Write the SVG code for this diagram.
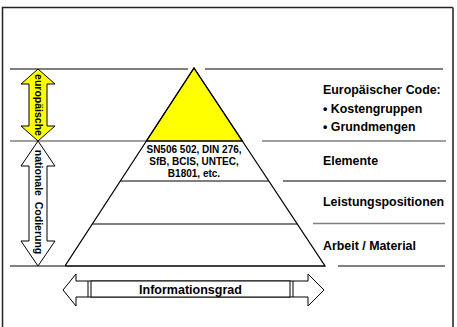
<svg xmlns="http://www.w3.org/2000/svg" width="457" height="327" viewBox="0 0 457 327">
<style>
text{font-family:"Liberation Sans",Arial,sans-serif;font-weight:bold;fill:#000}
.lbl{font-size:12.4px}
.pyr{font-size:10px}
.vt{font-size:10.5px}
.ln{stroke:#000;stroke-width:1.2;fill:none}
.lg{stroke:#808080;stroke-width:1.6;fill:none}
.arr{stroke:#000;stroke-width:1;stroke-linejoin:miter}
</style>
<rect width="457" height="327" fill="#fff"/>
<path d="M2.5,327 V7.5 H453" fill="none" stroke="#222" stroke-width="1.5"/>
<path d="M453,7.5 V327" fill="none" stroke="#555" stroke-width="2"/>
<g id="connectors">
<path class="ln" d="M10,69 H188 M205,69 H443" stroke="#333"/>
<path class="lg" d="M10,141 H146 M262,141 H446"/>
<path class="ln" d="M283,181 H446"/>
<path class="lg" d="M313,223.5 H445"/>
<path class="ln" d="M10,266 H64 M338,266 H445"/>
</g>
<g id="pyramid">
<polygon points="194,68 146.4,141 242.3,141" fill="#ffff00" stroke="#000" stroke-width="1.2"/>
<polygon points="194,68 65,266 325,266" fill="none" stroke="#000" stroke-width="1.2"/>
<path class="ln" d="M146.4,141 H242.3 M120.4,181 H268.8 M92.4,224 H297.2 M65,266 H325"/>
</g>
<g id="codes">
<text class="pyr" x="194" y="153" text-anchor="middle">SN506 502, DIN 276,</text>
<text class="pyr" x="194" y="165" text-anchor="middle">SfB, BCIS, UNTEC,</text>
<text class="pyr" x="194" y="177" text-anchor="middle">B1801, etc.</text>
</g>
<g id="label-eu">
<text class="lbl" x="323" y="94">Europäischer Code:</text>
<text class="lbl" x="323" y="113">• Kostengruppen</text>
<text class="lbl" x="323" y="131">• Grundmengen</text>
</g>
<g id="label-elemente"><text class="lbl" x="323" y="165">Elemente</text></g>
<g id="label-leistung"><text class="lbl" x="323" y="206">Leistungspositionen</text></g>
<g id="label-arbeit"><text class="lbl" x="323" y="250">Arbeit / Material</text></g>
<g id="arrow-europaeische">
<polygon class="arr" fill="#ffff00" points="38,69 55,84 47,84 47,126 55,126 38,141 21,126 29,126 29,84 21,84"/>
<text class="vt" transform="translate(34.5,105) rotate(90)" text-anchor="middle">europäische</text>
</g>
<g id="arrow-national">
<polygon class="arr" fill="#fff" points="38,141 55,166 47,166 47,241 55,241 38,266 21,241 29,241 29,166 21,166"/>
<text class="vt" transform="translate(34.5,202) rotate(90)" text-anchor="middle" xml:space="preserve">nationale  Codierung</text>
</g>
<g id="arrow-info">
<polygon class="arr" fill="#fff" points="63,290 76,274 76,281 308,281 308,274 324,290 308,306 308,297 76,297 76,306"/>
<path class="arr" fill="none" d="M88,281 V297 M293,281 V297"/>
<rect x="91" y="281" width="199" height="16" fill="#fff" stroke="#000" stroke-width="1"/>
<text x="190.5" y="294" text-anchor="middle" style="font-size:12.5px">Informationsgrad</text>
</g>
</svg>
